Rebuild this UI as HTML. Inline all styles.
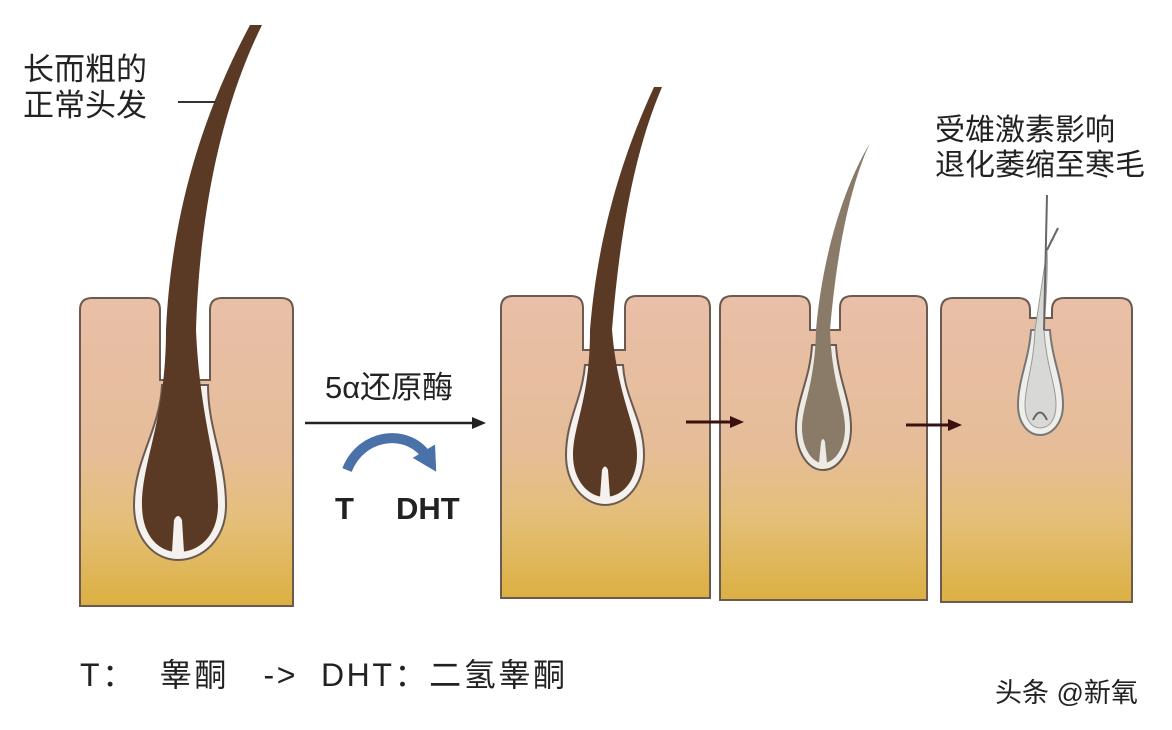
<!DOCTYPE html>
<html><head><meta charset="utf-8"><style>
html,body{margin:0;padding:0;background:#fff;}
svg{display:block}
text{font-family:"Liberation Sans","Noto Sans CJK SC",sans-serif;fill:#222}
</style></head><body>
<svg width="1172" height="730" viewBox="0 0 1172 730" xmlns="http://www.w3.org/2000/svg">
<defs>
<linearGradient id="sk" x1="0" y1="0" x2="0" y2="1">
<stop offset="0" stop-color="#e9bfa8"/><stop offset="0.5" stop-color="#e6bd98"/><stop offset="0.72" stop-color="#e4bf7a"/><stop offset="1" stop-color="#dcb042"/>
</linearGradient>
<marker id="ah" markerUnits="userSpaceOnUse" markerWidth="14" markerHeight="12" refX="10" refY="6" orient="auto"><path d="M0,0 L14,6 L0,12z" fill="#222"/></marker>
<marker id="ar" markerUnits="userSpaceOnUse" markerWidth="14" markerHeight="12" refX="8" refY="6" orient="auto"><path d="M0,0 L14,6 L0,12z" fill="#3a1010"/></marker>
<marker id="ab" markerUnits="userSpaceOnUse" markerWidth="26" markerHeight="26" refX="8" refY="13" orient="auto"><path d="M0,0 L24,13 L0,26z" fill="#4a72a8"/></marker>
</defs>

<path d="M80,606 L80,310 Q80,298 92,298 L148,298 Q160,298 160,310 L160,380 L210,380 L210,310 Q210,298 222,298 L281,298 Q293,298 293,310 L293,606 Z" fill="url(#sk)" stroke="#6b5a50" stroke-width="2"/>
<path d="M501,598 L501,308 Q501,296 513,296 L571,296 Q583,296 583,308 L583,350 L625,350 L625,308 Q625,296 637,296 L698,296 Q710,296 710,308 L710,598 Z" fill="url(#sk)" stroke="#6b5a50" stroke-width="2"/>
<path d="M720,600 L720,308 Q720,296 732,296 L798,296 Q810,296 810,308 L810,330 L840,330 L840,308 Q840,296 852,296 L915,296 Q927,296 927,308 L927,600 Z" fill="url(#sk)" stroke="#6b5a50" stroke-width="2"/>
<path d="M941,602 L941,310 Q941,298 953,298 L1018,298 Q1030,298 1030,310 L1030,318 L1052,318 L1052,310 Q1052,298 1064,298 L1120,298 Q1132,298 1132,310 L1132,602 Z" fill="url(#sk)" stroke="#6b5a50" stroke-width="2"/>

<path d="M162,385 C160,430 134,460 134,505 C134,540 155,560 178,560 C202,560 226,540 226,505 C226,460 208,430 208,385 Z" fill="#f4f1ee" stroke="#6b5a50" stroke-width="2"/>
<path d="M166,330 C166,420 142,460 142,505 C142,535 158,552 178,552 C200,552 218,535 218,505 C218,460 200,420 196,330 C200,200 225,100 262,25 L250,25 C210,100 172,200 166,330 Z" fill="#5a3a24"/>
<path d="M172,552 L174,520 Q178,512 182,520 L184,552 Z" fill="#f4f1ee"/>
<line x1="178" y1="102" x2="216" y2="102" stroke="#333" stroke-width="2"/>

<path d="M585,365 C582,400 566,420 566,455 C566,485 585,505 605,505 C626,505 644,485 644,455 C644,420 625,400 623,365 Z" fill="#f4f1ee" stroke="#6b5a50" stroke-width="2"/>
<path d="M590,330 C590,400 573,425 573,455 C573,480 588,497 605,497 C623,497 637,480 637,455 C637,425 618,400 612,330 C620,230 635,150 662,87 L654,87 C625,150 598,230 590,330 Z" fill="#5a3a24"/>
<path d="M600,497 L602,470 Q605,463 608,470 L610,497 Z" fill="#f4f1ee"/>

<path d="M812,345 C810,380 796,400 796,428 C796,452 808,470 823,470 C838,470 851,452 851,428 C851,400 838,380 836,345 Z" fill="#eeeae4" stroke="#6b5a50" stroke-width="2"/>
<path d="M816,330 C815,385 802,405 802,428 C802,448 812,463 823,463 C835,463 845,448 845,428 C845,405 832,385 830,330 C836,260 848,190 870,143 C842,190 822,260 816,330 Z" fill="#8a7a68"/>
<path d="M819,463 L821,442 Q823,436 825,442 L827,463 Z" fill="#eeeae4"/>

<path d="M1031,330 C1029,360 1018,380 1018,405 C1018,423 1028,435 1040,435 C1052,435 1063,423 1063,405 C1063,380 1052,360 1050,330 Z" fill="#eeeeea" stroke="#777" stroke-width="2"/>
<path d="M1035,330 C1034,365 1025,385 1025,405 C1025,420 1032,428 1040,428 C1049,428 1056,420 1056,405 C1056,385 1046,365 1044,330 C1046,300 1048,270 1047,250 Z" fill="#d8d8d6" stroke="#999" stroke-width="1"/>
<path d="M1044,330 L1047,195 M1047,250 L1058,228" stroke="#666" stroke-width="2" fill="none"/>
<path d="M1033,420 Q1040,405 1047,420" stroke="#666" stroke-width="2" fill="none"/>

<line x1="305" y1="423" x2="482" y2="423" stroke="#222" stroke-width="2.5" marker-end="url(#ah)"/>
<path d="M347,470 C362,432 410,428 428,458" stroke="#4a72a8" stroke-width="10" fill="none" marker-end="url(#ab)"/>
<line x1="686" y1="422" x2="738" y2="422" stroke="#3a1010" stroke-width="3" marker-end="url(#ar)"/>
<line x1="906" y1="425" x2="956" y2="425" stroke="#3a1010" stroke-width="3" marker-end="url(#ar)"/>

<text x="325" y="398" font-size="31">5α还原酶</text>
<text x="335" y="519" font-size="31" font-weight="bold">T</text>
<text x="396" y="519" font-size="31" font-weight="bold">DHT</text>
<text x="23" y="80" font-size="31">长而粗的</text>
<text x="23" y="116" font-size="31">正常头发</text>
<text x="935" y="140" font-size="30">受雄激素影响</text>
<text x="935" y="175" font-size="30">退化萎缩至寒毛</text>
<text x="80" y="686" font-size="32" xml:space="preserve" textLength="485" lengthAdjust="spacing">T：  睾酮   -&gt;  DHT：二氢睾酮</text>
<text x="995" y="702" font-size="27">头条 @新氧</text>
</svg>
</body></html>
